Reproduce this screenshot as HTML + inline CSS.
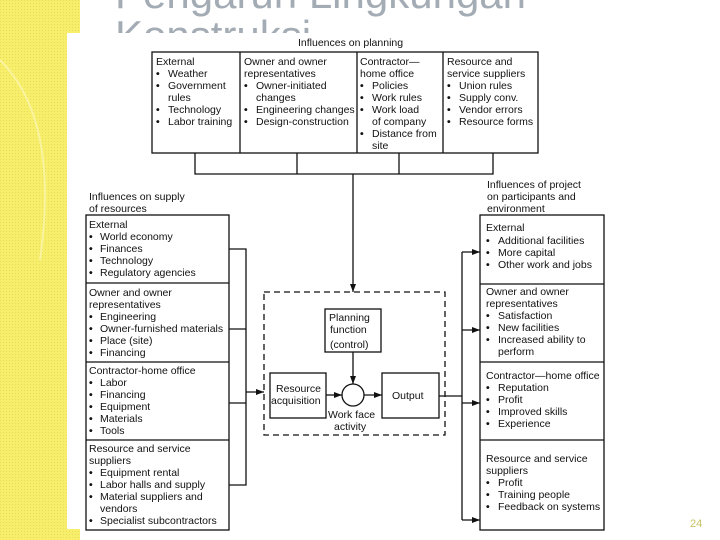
<!DOCTYPE html>
<html><head><meta charset="utf-8"><style>
html,body{margin:0;padding:0;width:720px;height:540px;overflow:hidden;background:#fff}
svg{position:absolute;left:0;top:0}
text{font-family:"Liberation Sans",sans-serif;font-size:10.5px;fill:#111}
tspan.b{font-weight:bold}
</style></head><body>
<svg width="720" height="540" viewBox="0 0 720 540">
<defs>
<pattern id="dots" width="3" height="3" patternUnits="userSpaceOnUse"><rect width="3" height="3" fill="#f7ef6c"/><rect width="1" height="1" fill="#e8dd55"/></pattern>
<marker id="ar" markerWidth="8" markerHeight="6" refX="8" refY="3" orient="auto" markerUnits="userSpaceOnUse"><path d="M0,0 L8,3 L0,6 z" fill="#111"/></marker>
</defs>
<rect x="0" y="0" width="80" height="540" fill="url(#dots)"/>
<path d="M0,60 Q60,120 40,260" stroke="#fbf7b8" stroke-width="2" fill="none" opacity=".7"/>
<text x="115" y="8" style="font-size:42px;fill:#a3acb4">Pengaruh Lingkungan</text>
<text x="115" y="50" style="font-size:42px;fill:#a3acb4">Konstruksi</text>
<rect x="67" y="33" width="653" height="496" fill="#fff"/>

<g stroke="#111" stroke-width="1.3" fill="none">
<rect x="152" y="52" width="386" height="101"/>
<line x1="240" y1="52" x2="240" y2="153"/><line x1="357" y1="52" x2="357" y2="153"/><line x1="443" y1="52" x2="443" y2="153"/>
<polyline points="195,153 195,174 493,174 493,153"/>
<line x1="297" y1="153" x2="297" y2="174"/><line x1="399" y1="153" x2="399" y2="174"/>
<line x1="353" y1="174" x2="353" y2="292" marker-end="url(#ar)"/>

<rect x="86" y="215" width="143" height="315"/>
<line x1="86" y1="283" x2="229" y2="283"/><line x1="86" y1="362" x2="229" y2="362"/><line x1="86" y1="440" x2="229" y2="440"/>
<polyline points="229,249 246,249 246,485 229,485"/>
<line x1="229" y1="329" x2="246" y2="329"/><line x1="229" y1="403" x2="246" y2="403"/>
<line x1="246" y1="392" x2="264" y2="392" marker-end="url(#ar)"/>

<rect x="264" y="292" width="181" height="143" stroke-dasharray="6,4"/>
<rect x="325" y="309" width="56" height="43"/>
<rect x="270" y="373" width="56" height="45"/>
<rect x="382" y="373" width="57" height="45"/>
<circle cx="353" cy="395" r="11"/>
<line x1="353" y1="352" x2="353" y2="384" marker-end="url(#ar)"/>
<line x1="326" y1="395" x2="342" y2="395" marker-end="url(#ar)"/>
<line x1="364" y1="395" x2="382" y2="395" marker-end="url(#ar)"/>
<line x1="439" y1="396" x2="462" y2="396"/>

<line x1="462" y1="252" x2="462" y2="520"/>
<line x1="462" y1="252" x2="480" y2="252" marker-end="url(#ar)"/>
<line x1="462" y1="330" x2="480" y2="330" marker-end="url(#ar)"/>
<line x1="462" y1="403" x2="480" y2="403" marker-end="url(#ar)"/>
<line x1="462" y1="520" x2="480" y2="520" marker-end="url(#ar)"/>

<rect x="480" y="215" width="124" height="315"/>
<line x1="480" y1="284" x2="604" y2="284"/><line x1="480" y1="362" x2="604" y2="362"/><line x1="480" y1="440" x2="604" y2="440"/>
</g>

<text x="298" y="46">Influences on planning</text>
<text x="156" y="65">External</text>
<text y="77"><tspan class="b" x="156">•</tspan><tspan x="168">Weather</tspan></text>
<text y="89"><tspan class="b" x="156">•</tspan><tspan x="168">Government</tspan></text>
<text x="168" y="101">rules</text>
<text y="113"><tspan class="b" x="156">•</tspan><tspan x="168">Technology</tspan></text>
<text y="125"><tspan class="b" x="156">•</tspan><tspan x="168">Labor training</tspan></text>

<text x="244" y="65">Owner and owner</text>
<text x="244" y="77">representatives</text>
<text y="89"><tspan class="b" x="244">•</tspan><tspan x="256">Owner-initiated</tspan></text>
<text x="256" y="101">changes</text>
<text y="113"><tspan class="b" x="244">•</tspan><tspan x="256">Engineering changes</tspan></text>
<text y="125"><tspan class="b" x="244">•</tspan><tspan x="256">Design-construction</tspan></text>

<text x="360" y="65">Contractor—</text>
<text x="360" y="77">home office</text>
<text y="89"><tspan class="b" x="360">•</tspan><tspan x="372">Policies</tspan></text>
<text y="101"><tspan class="b" x="360">•</tspan><tspan x="372">Work rules</tspan></text>
<text y="113"><tspan class="b" x="360">•</tspan><tspan x="372">Work load</tspan></text>
<text x="372" y="125">of company</text>
<text y="137"><tspan class="b" x="360">•</tspan><tspan x="372">Distance from</tspan></text>
<text x="372" y="149">site</text>

<text x="447" y="65">Resource and</text>
<text x="447" y="77">service suppliers</text>
<text y="89"><tspan class="b" x="447">•</tspan><tspan x="459">Union rules</tspan></text>
<text y="101"><tspan class="b" x="447">•</tspan><tspan x="459">Supply conv.</tspan></text>
<text y="113"><tspan class="b" x="447">•</tspan><tspan x="459">Vendor errors</tspan></text>
<text y="125"><tspan class="b" x="447">•</tspan><tspan x="459">Resource forms</tspan></text>

<text x="89" y="200">Influences on supply</text>
<text x="89" y="212">of resources</text>
<text x="89" y="228">External</text>
<text y="240"><tspan class="b" x="89">•</tspan><tspan x="100">World economy</tspan></text>
<text y="252"><tspan class="b" x="89">•</tspan><tspan x="100">Finances</tspan></text>
<text y="264"><tspan class="b" x="89">•</tspan><tspan x="100">Technology</tspan></text>
<text y="276"><tspan class="b" x="89">•</tspan><tspan x="100">Regulatory agencies</tspan></text>
<text x="89" y="296">Owner and owner</text>
<text x="89" y="308">representatives</text>
<text y="320"><tspan class="b" x="89">•</tspan><tspan x="100">Engineering</tspan></text>
<text y="332"><tspan class="b" x="89">•</tspan><tspan x="100">Owner-furnished materials</tspan></text>
<text y="344"><tspan class="b" x="89">•</tspan><tspan x="100">Place (site)</tspan></text>
<text y="356"><tspan class="b" x="89">•</tspan><tspan x="100">Financing</tspan></text>
<text x="89" y="374">Contractor-home office</text>
<text y="386"><tspan class="b" x="89">•</tspan><tspan x="100">Labor</tspan></text>
<text y="398"><tspan class="b" x="89">•</tspan><tspan x="100">Financing</tspan></text>
<text y="410"><tspan class="b" x="89">•</tspan><tspan x="100">Equipment</tspan></text>
<text y="422"><tspan class="b" x="89">•</tspan><tspan x="100">Materials</tspan></text>
<text y="434"><tspan class="b" x="89">•</tspan><tspan x="100">Tools</tspan></text>
<text x="89" y="452">Resource and service</text>
<text x="89" y="464">suppliers</text>
<text y="476"><tspan class="b" x="89">•</tspan><tspan x="100">Equipment rental</tspan></text>
<text y="488"><tspan class="b" x="89">•</tspan><tspan x="100">Labor halls and supply</tspan></text>
<text y="500"><tspan class="b" x="89">•</tspan><tspan x="100">Material suppliers and</tspan></text>
<text x="100" y="512">vendors</text>
<text y="524"><tspan class="b" x="89">•</tspan><tspan x="100">Specialist subcontractors</tspan></text>

<text x="329" y="321">Planning</text>
<text x="330" y="333">function</text>
<text x="330" y="348">(control)</text>
<text x="276" y="392">Resource</text>
<text x="271" y="404">acquisition</text>
<text x="392" y="399">Output</text>
<text x="328" y="418">Work face</text>
<text x="334" y="430">activity</text>

<text x="487" y="188">Influences of project</text>
<text x="487" y="200">on participants and</text>
<text x="487" y="212">environment</text>
<text x="486" y="231">External</text>
<text y="244"><tspan class="b" x="486">•</tspan><tspan x="498">Additional facilities</tspan></text>
<text y="256"><tspan class="b" x="486">•</tspan><tspan x="498">More capital</tspan></text>
<text y="268"><tspan class="b" x="486">•</tspan><tspan x="498">Other work and jobs</tspan></text>
<text x="486" y="295">Owner and owner</text>
<text x="486" y="307">representatives</text>
<text y="319"><tspan class="b" x="486">•</tspan><tspan x="498">Satisfaction</tspan></text>
<text y="331"><tspan class="b" x="486">•</tspan><tspan x="498">New facilities</tspan></text>
<text y="343"><tspan class="b" x="486">•</tspan><tspan x="498">Increased ability to</tspan></text>
<text x="498" y="355">perform</text>
<text x="486" y="379">Contractor—home office</text>
<text y="391"><tspan class="b" x="486">•</tspan><tspan x="498">Reputation</tspan></text>
<text y="403"><tspan class="b" x="486">•</tspan><tspan x="498">Profit</tspan></text>
<text y="415"><tspan class="b" x="486">•</tspan><tspan x="498">Improved skills</tspan></text>
<text y="427"><tspan class="b" x="486">•</tspan><tspan x="498">Experience</tspan></text>
<text x="486" y="462">Resource and service</text>
<text x="486" y="474">suppliers</text>
<text y="486"><tspan class="b" x="486">•</tspan><tspan x="498">Profit</tspan></text>
<text y="498"><tspan class="b" x="486">•</tspan><tspan x="498">Training people</tspan></text>
<text y="510"><tspan class="b" x="486">•</tspan><tspan x="498">Feedback on systems</tspan></text>

<text x="690" y="527" style="font-size:11px;fill:#c9c060">24</text>
</svg>
</body></html>
